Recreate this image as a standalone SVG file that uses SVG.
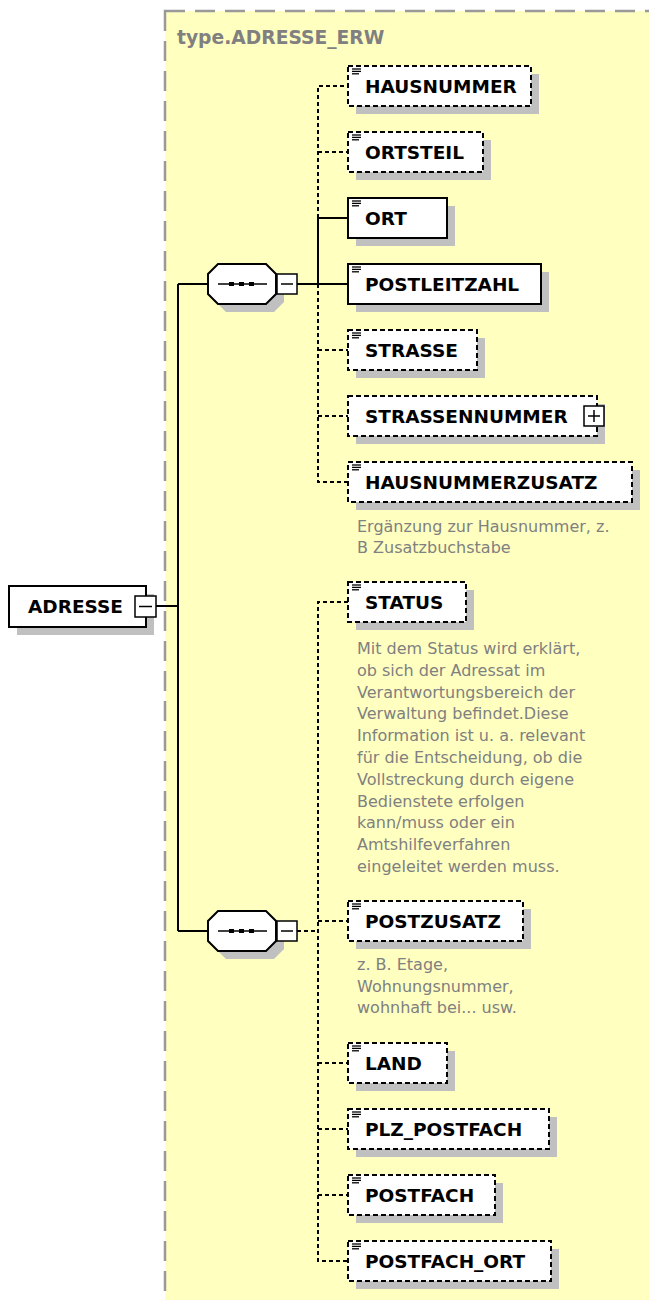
<svg xmlns="http://www.w3.org/2000/svg" width="649" height="1300" viewBox="0 0 649 1300">
<style>
.bg{fill:#FFFFC0;stroke:#999999;stroke-width:2.5;stroke-dasharray:20 10}
.sh{fill:#C0C0C0;stroke:none}
.box{fill:#FFFFFF;stroke:#000000;stroke-width:2}
.opt{fill:#FFFFFF;stroke:#000000;stroke-width:2;stroke-dasharray:5 3}
.lbl{font-family:"DejaVu Sans",Verdana,sans-serif;font-weight:bold;font-size:18.5px;fill:#000000}
.title{font-family:"DejaVu Sans",Verdana,sans-serif;font-weight:bold;font-size:18.7px;fill:#808080}
.desc{font-family:"DejaVu Sans",Verdana,sans-serif;font-size:16px;fill:#808080}
.ln{fill:none;stroke:#000000;stroke-width:2}
.dl{fill:none;stroke:#000000;stroke-width:2;stroke-dasharray:4 3}
.ico{stroke:#000000;stroke-width:1.3}
.pm{fill:#FFFFFF;stroke:#000000;stroke-width:1.5}
</style>
<defs>
<g id="icon"><line class="ico" x1="0" y1="0" x2="9" y2="0"/><line class="ico" x1="0" y1="2.4" x2="9" y2="2.4"/><line class="ico" x1="0" y1="4.8" x2="7" y2="4.8"/></g>
</defs>
<rect class="bg" x="165" y="11" width="520" height="1320"/>
<text class="title" x="177" y="44">type.ADRESSE_ERW</text>

<g id="connectors">
<line class="ln" x1="156" y1="606" x2="178" y2="606"/>
<line class="ln" x1="178" y1="284" x2="178" y2="931"/>
<line class="ln" x1="178" y1="284" x2="208" y2="284"/>
<line class="ln" x1="178" y1="931" x2="208" y2="931"/>
<line class="ln" x1="297" y1="284" x2="348" y2="284"/>
<path class="dl" d="M318 218 V86 H348"/>
<path class="dl" d="M318 152 H348"/>
<path class="ln" d="M318 218 H348 M318 218 V284"/>
<path class="dl" d="M318 284 V482 H348"/>
<path class="dl" d="M318 350 H348 M318 416 H348"/>
<line class="dl" x1="297" y1="931" x2="318" y2="931"/>
<path class="dl" d="M348 602 H318 V1261 H348"/>
<path class="dl" d="M318 921 H348 M318 1063 H348 M318 1129 H348 M318 1195 H348"/>
</g>

<g id="ADRESSE">
<rect class="sh" x="17" y="594" width="137" height="41"/>
<rect class="box" x="9" y="586" width="137" height="41"/>
<text class="lbl" x="28" y="613">ADRESSE</text>
<rect class="pm" x="135" y="596" width="21" height="21"/>
<line class="ln" x1="139" y1="606.5" x2="152" y2="606.5" style="stroke-width:1.5"/>
</g>

<g id="seq1">
<polygon class="sh" points="226,272 274,272 284,282 284,302 274,312 226,312 216,302 216,282"/>
<polygon class="box" points="218,264 266,264 276,274 276,294 266,304 218,304 208,294 208,274"/>
<line class="ln" x1="218" y1="284" x2="267" y2="284" style="stroke-width:1.5"/>
<rect x="229" y="282" width="5" height="4"/><rect x="239" y="282" width="5" height="4"/><rect x="249" y="282" width="5" height="4"/>
<rect class="pm" x="277" y="274" width="20" height="20"/>
<line class="ln" x1="281" y1="284" x2="293" y2="284" style="stroke-width:1.5"/>
</g>

<g id="seq2">
<polygon class="sh" points="226,919 274,919 284,929 284,949 274,959 226,959 216,949 216,929"/>
<polygon class="box" points="218,911 266,911 276,921 276,941 266,951 218,951 208,941 208,921"/>
<line class="ln" x1="218" y1="931" x2="267" y2="931" style="stroke-width:1.5"/>
<rect x="229" y="929" width="5" height="4"/><rect x="239" y="929" width="5" height="4"/><rect x="249" y="929" width="5" height="4"/>
<rect class="pm" x="277" y="921" width="20" height="20"/>
<line class="ln" x1="281" y1="931" x2="293" y2="931" style="stroke-width:1.5"/>
</g>

<g id="HAUSNUMMER">
<rect class="sh" x="356" y="74" width="183" height="40"/>
<rect class="opt" x="348" y="66" width="183" height="40"/>
<use href="#icon" x="352" y="69"/>
<text class="lbl" x="365" y="93">HAUSNUMMER</text>
</g>
<g id="ORTSTEIL">
<rect class="sh" x="356" y="140" width="135" height="40"/>
<rect class="opt" x="348" y="132" width="135" height="40"/>
<use href="#icon" x="352" y="135"/>
<text class="lbl" x="365" y="159">ORTSTEIL</text>
</g>
<g id="ORT">
<rect class="sh" x="356" y="206" width="99" height="40"/>
<rect class="box" x="348" y="198" width="99" height="40"/>
<use href="#icon" x="352" y="201"/>
<text class="lbl" x="365" y="225">ORT</text>
</g>
<g id="POSTLEITZAHL">
<rect class="sh" x="356" y="272" width="193" height="40"/>
<rect class="box" x="348" y="264" width="193" height="40"/>
<use href="#icon" x="352" y="267"/>
<text class="lbl" x="365" y="291">POSTLEITZAHL</text>
</g>
<g id="STRASSE">
<rect class="sh" x="356" y="338" width="129" height="40"/>
<rect class="opt" x="348" y="330" width="129" height="40"/>
<use href="#icon" x="352" y="333"/>
<text class="lbl" x="365" y="357">STRASSE</text>
</g>
<g id="STRASSENNUMMER">
<rect class="sh" x="356" y="404" width="249" height="40"/>
<rect class="opt" x="348" y="396" width="249" height="40"/>
<text class="lbl" x="365" y="423">STRASSENNUMMER</text>
<rect class="pm" x="584" y="406" width="20" height="20"/>
<line class="ln" x1="588" y1="416" x2="600" y2="416" style="stroke-width:1.5"/>
<line class="ln" x1="594" y1="410" x2="594" y2="422" style="stroke-width:1.5"/>
</g>
<g id="HAUSNUMMERZUSATZ">
<rect class="sh" x="356" y="470" width="284" height="40"/>
<rect class="opt" x="348" y="462" width="284" height="40"/>
<use href="#icon" x="352" y="465"/>
<text class="lbl" x="365" y="489">HAUSNUMMERZUSATZ</text>
<text class="desc" x="357" y="531.5">Ergänzung zur Hausnummer, z.</text>
<text class="desc" x="357" y="553">B Zusatzbuchstabe</text>
</g>

<g id="STATUS">
<rect class="sh" x="356" y="590" width="118" height="40"/>
<rect class="opt" x="348" y="582" width="118" height="40"/>
<use href="#icon" x="352" y="585"/>
<text class="lbl" x="365" y="609">STATUS</text>
<text class="desc" x="357" y="654">Mit dem Status wird erklärt,</text>
<text class="desc" x="357" y="675.8">ob sich der Adressat im</text>
<text class="desc" x="357" y="697.6">Verantwortungsbereich der</text>
<text class="desc" x="357" y="719.4">Verwaltung befindet.Diese</text>
<text class="desc" x="357" y="741.2">Information ist u. a. relevant</text>
<text class="desc" x="357" y="763">für die Entscheidung, ob die</text>
<text class="desc" x="357" y="784.8">Vollstreckung durch eigene</text>
<text class="desc" x="357" y="806.6">Bedienstete erfolgen</text>
<text class="desc" x="357" y="828.4">kann/muss oder ein</text>
<text class="desc" x="357" y="850.2">Amtshilfeverfahren</text>
<text class="desc" x="357" y="872">eingeleitet werden muss.</text>
</g>
<g id="POSTZUSATZ">
<rect class="sh" x="356" y="909" width="175" height="40"/>
<rect class="opt" x="348" y="901" width="175" height="40"/>
<use href="#icon" x="352" y="904"/>
<text class="lbl" x="365" y="928">POSTZUSATZ</text>
<text class="desc" x="357" y="970">z. B. Etage,</text>
<text class="desc" x="357" y="991.5">Wohnungsnummer,</text>
<text class="desc" x="357" y="1013">wohnhaft bei... usw.</text>
</g>
<g id="LAND">
<rect class="sh" x="356" y="1051" width="99" height="40"/>
<rect class="opt" x="348" y="1043" width="99" height="40"/>
<use href="#icon" x="352" y="1046"/>
<text class="lbl" x="365" y="1070">LAND</text>
</g>
<g id="PLZ_POSTFACH">
<rect class="sh" x="356" y="1117" width="201" height="40"/>
<rect class="opt" x="348" y="1109" width="201" height="40"/>
<use href="#icon" x="352" y="1112"/>
<text class="lbl" x="365" y="1136">PLZ_POSTFACH</text>
</g>
<g id="POSTFACH">
<rect class="sh" x="356" y="1183" width="147" height="40"/>
<rect class="opt" x="348" y="1175" width="147" height="40"/>
<use href="#icon" x="352" y="1178"/>
<text class="lbl" x="365" y="1202">POSTFACH</text>
</g>
<g id="POSTFACH_ORT">
<rect class="sh" x="356" y="1249" width="203" height="40"/>
<rect class="opt" x="348" y="1241" width="203" height="40"/>
<use href="#icon" x="352" y="1244"/>
<text class="lbl" x="365" y="1268">POSTFACH_ORT</text>
</g>
</svg>
